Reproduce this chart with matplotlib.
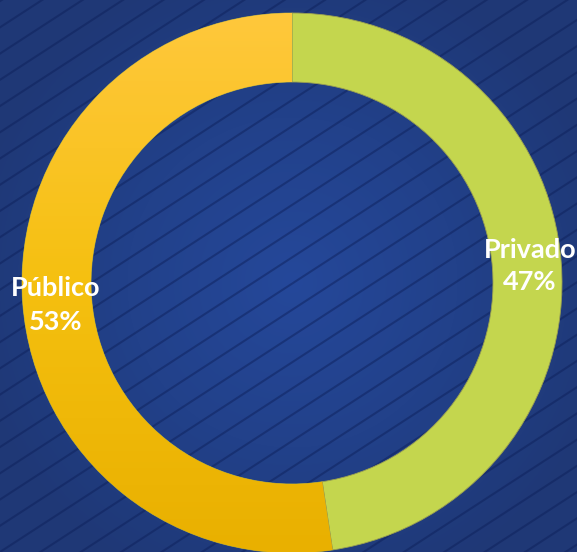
import numpy as np
import matplotlib
matplotlib.use("Agg")
import matplotlib.pyplot as plt
from matplotlib.colors import LinearSegmentedColormap

categories = ["Privado", "Público"]
values = [47.6, 52.4]
labels = ["Privado\n47%", "Público\n53%"]

W, H = 577, 552
fig = plt.figure(figsize=(W / 100, H / 100), dpi=100)
bg = "#203a7a"
fig.patch.set_facecolor(bg)
ax = fig.add_axes([0, 0, 1, 1])
ax.set_facecolor(bg)

cx, cy, R, ring = 292, 269, 270, 69

# radial background gradient
yy, xx = np.mgrid[0:H, 0:W]
dist = np.sqrt((xx - cx) ** 2 + (yy - cy) ** 2) / 330.0
dist = np.clip(dist, 0, 1)
bcmap = LinearSegmentedColormap.from_list("b", ["#25489a", "#22418a", "#1f3876"])
ax.imshow(dist, extent=[0, W, 0, H], origin="lower", cmap=bcmap,
          vmin=0, vmax=1, aspect="auto", zorder=-2)

# diagonal stripes on background
ang = np.deg2rad(33)
spacing = 22
for k in range(-40, 60):
    off = k * spacing / np.cos(ang)
    xs = np.array([-50, W + 50])
    ys = off + np.tan(ang) * xs
    ax.plot(xs, ys, color="#0c1e58", alpha=0.45, lw=1.5, zorder=0)

wedges, _ = ax.pie(values, center=(cx, cy), radius=R, startangle=90,
                   counterclock=False,
                   colors=["#c4d64e", "#f2bb12"],
                   wedgeprops=dict(width=ring, linewidth=0.6, edgecolor="#9aa050"),
                   frame=True)

# vertical gradient for the yellow wedge
grad = np.linspace(0, 1, 256).reshape(-1, 1)
cmap = LinearSegmentedColormap.from_list("y", ["#e9b000", "#f5c010", "#ffc83c"])
im = ax.imshow(grad, extent=[cx - R, cx + R, cy - R, cy + R], origin="lower",
               cmap=cmap, aspect="auto", zorder=wedges[1].get_zorder() + 0.1)
im.set_clip_path(wedges[1])

ax.set_xlim(0, W)
ax.set_ylim(0, H)
ax.set_aspect("equal")
ax.axis("off")

font = dict(family=["Lato", "DejaVu Sans"], fontweight="bold", color="white",
            fontsize=19.5, ha="center", va="center", linespacing=1.45, zorder=10)
ax.text(530, H - 266, labels[0], **font)
ax.text(56, H - 305, labels[1], **font)

fig.savefig("out.png", dpi=100, facecolor=bg)
